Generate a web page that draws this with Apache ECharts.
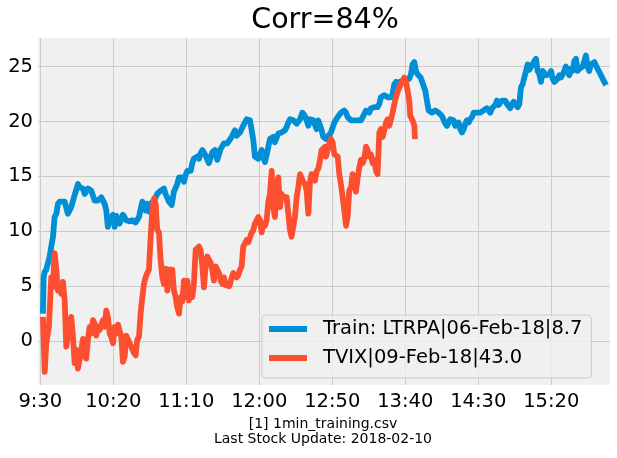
<!DOCTYPE html>
<html>
<head>
<meta charset="utf-8">
<script src="https://cdn.jsdelivr.net/npm/echarts@6/dist/echarts.min.js"></script>
<style>
html,body{margin:0;padding:0;background:#fff;}
#c{width:617px;height:458px;}
</style>
</head>
<body>
<div id="c"></div>
<script>
// minutes after 9:30
const trainTimes = [1.8,2.3,3.0,4.1,6.4,7.5,8.7,9.8,11.0,12.1,13.2,16.7,18.9,20.1,21.2,23.5,25.8,26.9,29.2,30.4,32.6,34.9,37.2,39.5,41.8,42.9,44.1,45.2,46.3,47.5,49.8,50.9,52.1,54.3,56.6,58.9,61.0,
63.0,65.3,67.6,69.9,72.1,73.3,74.4,75.6,77.9,80.1,82.4,84.7,85.8,88.1,90.0,91.5,93.8,95.0,97.3,98.4,99.5,100.7,103.0,104.1,105.2,107.5,108.7,109.8,111.0,113.2,115.5,117.8,119.6,121.2,123.5,125.8,128.1,
131.1,133.3,134.5,136.8,139.0,141.3,143.6,144.8,145.9,147.0,149.3,151.6,152.7,153.9,155.0,156.2,157.3,159.6,160.7,163.0,165.3,167.6,168.7,169.9,171.0,173.3,175.6,177.9,179.5,181.3,182.4,183.6,184.7,187.0,188.1,189.3,190.4,192.7,193.8,
195.7,196.8,199.1,201.4,203.7,205.9,208.2,209.4,210.5,212.8,215.1,217.4,219.6,220.8,221.9,223.1,225.3,226.5,228.8,231.0,232.2,233.3,235.6,237.9,240.2,241.3,242.5,243.6,244.7,245.9,248.2,250.5,251.6,252.7,253.9,255.0,256.2,257.3,258.4,260.5,
262.6,263.7,264.8,266.0,268.3,270.5,272.8,275.1,277.4,278.5,280.8,283.1,284.2,286.5,287.7,288.8,290.0,291.1,292.2,293.4,294.5,295.7,296.8,299.1,301.4,303.6,305.9,308.2,309.4,310.5,311.6,312.8,313.9,315.1,316.2,318.5,319.6,320.8,321.9,323.1,324.2,
325.8,327.0,328.1,329.2,330.4,331.5,332.7,333.8,335.0,336.1,337.2,338.4,339.5,340.6,341.8,342.9,344.1,345.2,346.3,347.5,348.6,349.8,350.9,352.1,353.2,354.3,355.5,356.6,357.8,358.9,360.0,361.2,362.3,363.5,364.6,365.8,366.9,368.0,369.2,370.3,371.5,372.6,373.7,374.9,376.0,377.2,379.5,380.6,381.7,382.9,384.0,385.2,386.3,387.5];
const trainValues = [2.5,5.8,6.3,6.5,7.7,8.6,9.5,11.3,11.6,12.5,12.7,12.7,11.6,11.6,12.2,13.3,14.3,14.0,13.9,13.4,13.9,13.7,12.8,12.8,13.1,13.1,12.5,11.9,10.4,11.0,11.5,10.4,11.4,10.7,11.5,11.0,10.9,
11.0,10.8,11.3,12.7,11.9,12.5,11.8,12.5,12.8,13.4,13.7,13.9,13.4,12.7,12.4,13.6,14.3,14.9,14.9,14.5,15.1,15.5,15.5,16.2,16.6,16.8,16.6,17.1,17.4,16.9,16.2,17.2,17.4,16.5,17.5,18.0,18.0,
18.6,19.2,18.7,19.0,19.6,20.2,20.1,19.2,18.3,16.8,16.6,17.4,16.8,16.3,16.2,17.7,18.4,18.6,18.1,18.9,19.0,19.2,19.5,19.9,20.2,20.1,19.8,20.2,20.8,20.5,20.1,19.6,20.2,20.1,20.2,19.3,20.1,19.2,18.6,
18.4,18.4,19.0,19.9,20.4,20.8,21.0,20.8,20.4,20.1,20.1,20.1,20.1,20.4,20.5,21.0,20.8,21.2,21.3,21.3,21.6,22.2,22.4,22.2,22.2,22.5,23.4,23.6,23.1,23.6,23.7,23.7,23.6,23.9,24.3,25.2,25.4,24.6,24.3,24.0,
23.2,22.8,21.9,21.0,20.8,21.0,20.8,20.5,19.8,19.6,20.2,20.1,19.6,19.9,19.3,19.0,19.3,19.8,20.1,19.9,20.2,20.4,20.8,20.8,20.8,21.0,21.2,20.8,21.2,21.2,21.5,21.9,21.5,21.6,21.9,21.9,21.6,21.6,21.2,21.6,21.8,
21.5,21.3,21.6,23.1,23.4,24.0,24.6,25.2,24.7,25.0,25.2,25.5,25.7,24.6,24.3,23.6,24.6,24.5,24.2,24.2,24.3,24.6,23.9,23.6,23.7,23.9,24.2,24.0,24.3,24.6,25.0,24.6,24.2,24.8,24.6,25.5,25.7,24.6,24.8,24.9,25.0,25.5,26.0,25.0,24.6,25.2,25.4,25.1,24.8,24.5,24.2,23.9,23.6,23.3];

const tvixTimes = [1.8,3.0,4.1,5.9,7.5,8.7,9.8,11.0,12.1,13.2,14.4,15.5,16.7,17.8,18.9,20.1,21.2,22.4,23.5,24.7,25.8,26.9,28.1,29.2,30.4,31.5,32.6,33.8,34.9,36.1,37.2,38.4,39.5,40.6,41.8,42.9,44.1,45.2,46.3,47.5,48.6,49.8,50.9,52.1,53.2,54.3,55.5,56.6,57.8,58.9,60.0,61.2,62.3,
64.2,65.3,66.4,67.6,68.7,69.9,71.0,72.1,73.3,74.4,75.6,76.7,77.9,79.0,80.1,81.3,82.4,83.6,84.7,85.8,87.0,88.1,89.3,90.4,91.5,92.7,93.8,95.0,96.1,97.3,98.4,99.5,100.7,101.8,103.0,104.1,105.2,106.4,107.5,108.7,109.8,111.0,112.1,113.2,114.4,115.5,116.7,117.8,118.9,120.1,121.2,122.4,123.5,124.7,125.8,126.9,128.1,129.5,131.1,132.2,
133.3,134.5,135.6,136.8,137.9,139.0,140.2,141.3,142.5,143.6,144.8,145.9,147.0,149.3,150.5,151.6,152.7,153.9,155.0,156.2,157.3,158.5,159.6,160.7,161.9,163.0,164.2,165.3,166.4,167.6,168.7,169.9,171.0,172.1,173.3,174.4,175.6,176.7,177.9,179.0,180.1,181.3,182.4,183.6,184.7,185.8,187.0,188.1,189.3,190.4,191.6,192.7,195.0,
195.7,196.8,197.9,199.1,200.2,201.4,202.5,203.7,204.8,205.9,207.1,208.2,209.4,210.5,211.6,212.8,213.9,215.1,216.2,217.4,218.5,219.6,220.8,221.9,223.1,224.2,225.3,226.5,227.6,228.8,229.9,231.0,232.2,233.3,234.5,235.6,236.8,237.9,239.0,240.2,241.3,242.5,243.6,244.7,245.9,247.0,248.2,249.3,250.5,251.6,252.7,253.4,255.0,256.2,256.6];
const tvixValues = [2.2,-2.8,-0.2,1.3,5.8,4.9,8.0,6.5,4.6,5.0,4.3,5.4,3.7,-0.5,-0.5,1.6,2.2,0.4,-2.0,-0.8,-2.5,-2.4,-0.8,0.2,-1.4,-1.6,0.1,1.3,0.7,1.9,1.6,0.5,1.3,1.0,1.5,1.9,1.3,2.8,2.2,0.7,0.4,-0.2,1.3,0.7,1.5,1.6,0.4,-1.9,-1.4,0.5,0.4,-0.2,-0.5,
-1.1,-1.3,0.1,0.4,2.5,4.0,5.2,5.8,6.2,6.5,9.5,11.9,13.0,12.5,10.1,9.9,7.4,5.8,5.2,6.6,4.6,6.5,6.4,6.5,4.6,4.0,3.1,2.5,4.0,3.6,5.5,4.0,5.5,3.7,4.6,4.0,5.2,8.3,8.4,8.6,8.3,6.8,4.9,6.8,7.7,7.7,7.1,6.5,5.5,6.8,6.8,6.2,5.5,5.2,5.8,5.1,5.0,5.0,5.8,6.2,
6.3,5.8,6.0,6.5,6.8,8.6,8.9,9.2,9.0,9.0,9.9,10.1,10.7,11.3,11.0,9.9,10.7,10.5,11.0,12.7,13.4,15.5,12.2,11.3,13.7,14.9,12.2,13.4,13.1,13.1,13.1,11.6,10.1,9.5,9.6,11.3,13.1,14.0,15.2,15.2,14.5,14.3,13.7,11.6,14.5,15.2,14.8,14.6,15.5,15.7,16.5,17.4,17.7,
16.8,17.4,18.0,18.4,18.1,17.0,17.0,16.8,15.2,14.3,13.1,11.9,10.5,11.3,13.7,14.0,15.2,14.6,13.6,14.9,15.8,16.5,16.2,16.6,17.7,17.4,16.8,17.0,16.2,16.5,15.5,15.2,19.0,19.3,18.6,19.2,19.9,20.2,19.6,20.2,20.8,21.6,22.2,22.7,23.1,23.4,23.7,24.0,23.6,22.8,21.9,20.5,20.1,19.6,18.4];

const seriesNames = ['Train: LTRPA|06-Feb-18|8.7', 'TVIX|09-Feb-18|43.0'];
const xTickMinutes = [0,50,100,150,200,250,300,350];
const xTickLabels = ['9:30','10:20','11:10','12:00','12:50','13:40','14:30','15:20'];
const titleText = 'Corr=84%';
const footerText = '[1] 1min_training.csv\nLast Stock Update: 2018-02-10';

const zip = (a, b) => a.map((t, i) => [t, b[i]]);
const FONT = 'DejaVu Sans';

const chart = echarts.init(document.getElementById('c'), null, {renderer: 'canvas'});
chart.setOption({
  animation: false,
  backgroundColor: '#ffffff',
  title: [
    {text: titleText, left: 325, top: 6, textAlign: 'center', padding: 0,
     textStyle: {fontFamily: FONT, fontSize: 28.5, fontWeight: 'normal', color: '#000'}},
    {text: footerText, left: 323, top: 417, textAlign: 'center', padding: 0,
     textStyle: {fontFamily: FONT, fontSize: 14, lineHeight: 15, fontWeight: 'normal', color: '#000'}}
  ],
  grid: {left: 38, right: 7, top: 38, bottom: 73, show: true, backgroundColor: '#f0f0f0', borderWidth: 0},
  legend: {
    orient: 'vertical', left: 262, top: 315,
    padding: [3, 9, 9, 7],
    itemWidth: 38, itemHeight: 6, itemGap: 7,
    icon: 'rect',
    backgroundColor: 'rgba(240,240,240,0.8)', borderColor: '#cccccc', borderWidth: 1, borderRadius: 4,
    textStyle: {fontFamily: FONT, fontSize: 19.5, lineHeight: 22, color: '#000', padding: [0, 0, 0, 11]},
    data: seriesNames
  },
  xAxis: {
    type: 'value', min: -1.57, max: 390.2, minInterval: 50, maxInterval: 50,
    axisLine: {show: false}, axisTick: {show: false},
    axisLabel: {
      showMinLabel: false, showMaxLabel: false, margin: 7,
      fontFamily: FONT, fontSize: 19.5, color: '#000',
      formatter: v => { const i = xTickMinutes.indexOf(Math.round(v)); return i >= 0 ? xTickLabels[i] : ''; }
    },
    splitLine: {show: true, showMinLine: false, showMaxLine: false, lineStyle: {color: '#cbcbcb', width: 1}}
  },
  yAxis: {
    type: 'value', min: -4.0, max: 27.6, minInterval: 5, maxInterval: 5,
    axisLine: {show: false}, axisTick: {show: false},
    axisLabel: {showMinLabel: false, showMaxLabel: false, margin: 5, fontFamily: FONT, fontSize: 19.5, color: '#000'},
    splitLine: {show: true, showMinLine: false, showMaxLine: false, lineStyle: {color: '#cbcbcb', width: 1}}
  },
  series: [
    {name: seriesNames[0], type: 'line', data: zip(trainTimes, trainValues), showSymbol: false, symbol: 'none',
     itemStyle: {color: '#008fd5'}, lineStyle: {color: '#008fd5', width: 5.8, join: 'round', cap: 'butt'}},
    {name: seriesNames[1], type: 'line', data: zip(tvixTimes, tvixValues), showSymbol: false, symbol: 'none',
     itemStyle: {color: '#fc4f30'}, lineStyle: {color: '#fc4f30', width: 5.8, join: 'round', cap: 'butt'}}
  ]
});
</script>
</body>
</html>
